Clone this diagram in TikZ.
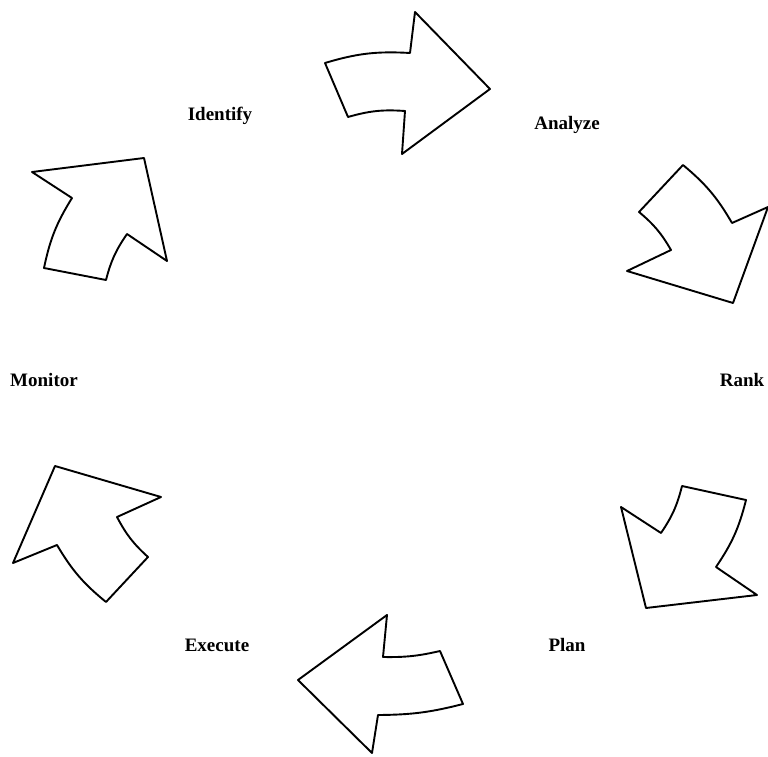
\documentclass[tikz,border=0pt]{standalone}
\usepackage{fontspec}
\setmainfont{Liberation Serif}
\usepackage{tikz}

\tikzset{
  blockarrow/.style={draw=black, line width=1.9pt, line join=round, fill=white},
  steplabel/.style={font=\bfseries\fontsize{19}{21}\selectfont, inner sep=0pt}
}

\begin{document}
\begin{tikzpicture}[x=1pt, y=1pt]
  \useasboundingbox (0,0) rectangle (768,756);
  % block arrows, clockwise from the top
  \draw[blockarrow] (325,693) to[bend left=10] (410,703) -- (415,744) -- (490,667)
    -- (402,602) -- (405,645) to[bend right=10] (348,639) -- cycle;
  \draw[blockarrow] (683,591) -- (639,544) to[bend left=10] (671,506) -- (627,485)
    -- (733,453) -- (768,549) -- (732,533) to[bend right=10] cycle;
  \draw[blockarrow] (682,270) -- (746,256) to[bend left=10] (716,189) -- (757,161)
    -- (646,148) -- (621,249) -- (661,223) to[bend right=10] cycle;
  \draw[blockarrow] (298,76) -- (387,141) -- (383,99) to[bend right=7] (440,105)
    -- (463,52) to[bend left=7] (378,41) -- (372,3) -- cycle;
  \draw[blockarrow] (55,290) -- (161,259) -- (117,239) to[bend right=10] (148,199)
    -- (106,154) to[bend left=10] (57,211) -- (13,193) -- cycle;
  \draw[blockarrow] (32,584) -- (144,598) -- (167,495) -- (127,522) to[bend right=10] (106,476)
    -- (44,488) to[bend left=10] (72,558) -- cycle;
  % step labels
  \node[steplabel] (identify) at (220,640) {Identify};
  \node[steplabel] (analyze) at (567,631) {Analyze};
  \node[steplabel] (rank) at (742,376) {Rank};
  \node[steplabel] (plan) at (567,111) {Plan};
  \node[steplabel] (execute) at (217,111) {Execute};
  \node[steplabel] (monitor) at (44,376) {Monitor};
\end{tikzpicture}
\end{document}
